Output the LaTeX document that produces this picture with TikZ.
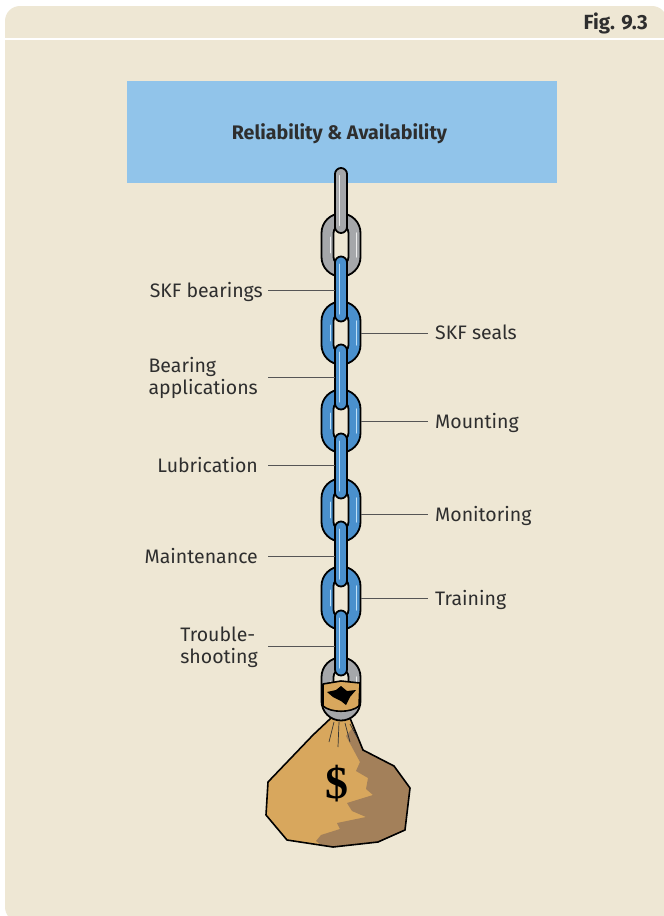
\documentclass[tikz,border=0pt]{standalone}
\usepackage{fontspec}
\setmainfont{Fira Sans}
\newfontfamily\dollarfont{Liberation Serif}

% colours
\definecolor{panelbg}{HTML}{EEE7D4}
\definecolor{titlebox}{HTML}{91C4EA}
\definecolor{txt}{HTML}{2E2E2E}
\definecolor{leadc}{HTML}{555555}
\definecolor{linkblue}{HTML}{4A90CD}
\definecolor{linkbluehl}{HTML}{BFE0F7}
\definecolor{linkgray}{HTML}{A5A7AA}
\definecolor{linkgrayhl}{HTML}{EDEDED}
\definecolor{bagtan}{HTML}{D8A75D}
\definecolor{bagshade}{HTML}{A3805A}

% a face-on chain link centred on the chain axis at height #1
\newcommand\facelink[3]{%
  \path[fill=#2, draw=black, line width=1.8pt, even odd rule]
    [rounded corners=19.5pt] (321.5,{#1-31.5}) rectangle (360.5,{#1+31.5})
    [rounded corners=7.5pt] (333.5,{#1-19.5}) rectangle (348.5,{#1+19.5});
  \draw[#3, line width=1.1pt, line cap=round] (356.5,{#1-12}) -- (356.5,{#1+12});
  \draw[#3, line width=0.8pt, line cap=round] (330,{#1-8}) -- (330,{#1+8});
}
% an edge-on chain link (straight bar) centred at height #1
\newcommand\edgelink[3]{%
  \path[fill=#2, draw=black, line width=1.8pt, rounded corners=6pt]
    (335,{#1-32.5}) rectangle (347,{#1+32.5});
  \draw[#3, line width=1pt, line cap=round] (339.5,{#1-25}) -- (339.5,{#1+25});
}

\begin{document}
\begin{tikzpicture}[x=1pt,y=-1pt,
  lbl/.style={font=\fontsize{19.5}{22}\selectfont, text=txt, inner sep=0pt},
  lead/.style={draw=leadc, line width=0.9pt},
  outline/.style={draw=black, line width=1.6pt, line join=round}]

\useasboundingbox (0,0) rectangle (664,916);
\fill[white] (0,0) rectangle (664,916);

% panel with header strip
\fill[panelbg, rounded corners=15pt]
  (5,300) -- (5,6) -- (667,6) -- (667,922) -- (5,922) -- cycle;
\fill[white] (0,37.5) rectangle (664,39.5);
\node[font=\fontsize{20.5}{22}\selectfont\bfseries, text=txt, inner sep=0pt,
  anchor=base east] (fig) at (648,29.5) {Fig. 9.3};

% title box
\fill[titlebox] (127,81) rectangle (557,183);
\node[font=\fontsize{19.6}{22}\selectfont\bfseries, text=txt, inner sep=0pt]
  (title) at (339.5,134) {Reliability \& Availability};

% money bag
\begin{scope}
  \path[fill=bagtan] (331,718) -- (313,735) -- (268,782) -- (266,815)
    -- (287,840) -- (333,847) -- (378,842) -- (405,830) -- (410,788)
    -- (394,766) -- (363,750) -- (350,718) -- cycle;
  \clip (331,718) -- (313,735) -- (268,782) -- (266,815)
    -- (287,840) -- (333,847) -- (378,842) -- (405,830) -- (410,788)
    -- (394,766) -- (363,750) -- (350,718) -- cycle;
  \fill[bagshade] (346,736) -- (360,762) -- (356,771) -- (368,778)
    -- (366,789) -- (373,795) -- (347,803) -- (352,811) -- (366,817)
    -- (337,823) -- (340,829) -- (321,835) -- (316,841) -- (330,852)
    -- (420,852) -- (420,740) -- (355,725) -- cycle;
\end{scope}
\draw[outline] (331,718) -- (313,735) -- (268,782) -- (266,815)
  -- (287,840) -- (333,847) -- (378,842) -- (405,830) -- (410,788)
  -- (394,766) -- (363,750) -- (350,718);
\draw[black!80, line width=0.7pt] (334,722) -- (329,742)
  (339,722) -- (338,747) (345,723) -- (350,742) (350,724) -- (357,737);
\node[font=\dollarfont\bfseries\fontsize{46}{46}\selectfont, text=black,
  inner sep=0pt] (dollar) at (337,784) {\$};

% chain: rings first, bars on top
\facelink{245}{linkgray}{linkgrayhl}
\facelink{333}{linkblue}{linkbluehl}
\facelink{421}{linkblue}{linkbluehl}
\facelink{510}{linkblue}{linkbluehl}
\facelink{598}{linkblue}{linkbluehl}
\facelink{689}{linkgray}{linkgrayhl}
\edgelink{200.5}{linkgray}{linkgrayhl}
\edgelink{289}{linkblue}{linkbluehl}
\edgelink{377}{linkblue}{linkbluehl}
\edgelink{466}{linkblue}{linkbluehl}
\edgelink{554}{linkblue}{linkbluehl}
\edgelink{643}{linkblue}{linkbluehl}

% the bag's tie wrapped over the last ring
\draw[fill=bagtan, outline] (323,684) -- (341,681) -- (360,683) -- (359,706)
  .. controls (351,713) and (331,713) .. (323,706) -- cycle;
\fill[black] (327,692) -- (336,690) -- (341,686) -- (347,691) -- (356,690)
  -- (350,697) -- (346,705) -- (341,701) -- (333,697) -- cycle;

% attachment points on the chain
\coordinate (cl1) at (335,290.5);
\coordinate (cl2) at (335,377);
\coordinate (cl3) at (335,465);
\coordinate (cl4) at (335,556);
\coordinate (cl5) at (335,646);
\coordinate (cr1) at (361,333);
\coordinate (cr2) at (361,421);
\coordinate (cr3) at (361,514);
\coordinate (cr4) at (361,598);

% left labels
\node[lbl, anchor=base east] (bear) at (263,297) {SKF bearings};
\node[lbl, anchor=east, align=left] (appl) at (258,378) {Bearing\\applications};
\node[lbl, anchor=base east] (lubr) at (258,472) {Lubrication};
\node[lbl, anchor=base east] (main) at (258,563) {Maintenance};
\node[lbl, anchor=east, align=left] (trbl) at (258,647) {Trouble-\\shooting};

% right labels
\node[lbl, anchor=base west] (seal) at (435,339) {SKF seals};
\node[lbl, anchor=base west] (moun) at (435,428) {Mounting};
\node[lbl, anchor=base west] (moni) at (435,521) {Monitoring};
\node[lbl, anchor=base west] (trai) at (435,605) {Training};

% leader lines
\draw[lead] ([xshift=5pt]cl1 -| bear.east) -- (cl1);
\draw[lead] ([xshift=10pt]cl2 -| appl.east) -- (cl2);
\draw[lead] ([xshift=10pt]cl3 -| lubr.east) -- (cl3);
\draw[lead] ([xshift=10pt]cl4 -| main.east) -- (cl4);
\draw[lead] ([xshift=10pt]cl5 -| trbl.east) -- (cl5);
\draw[lead] (cr1) -- ([xshift=-7pt]cr1 -| seal.west);
\draw[lead] (cr2) -- ([xshift=-7pt]cr2 -| moun.west);
\draw[lead] (cr3) -- ([xshift=-7pt]cr3 -| moni.west);
\draw[lead] (cr4) -- ([xshift=-7pt]cr4 -| trai.west);
\end{tikzpicture}
\end{document}
